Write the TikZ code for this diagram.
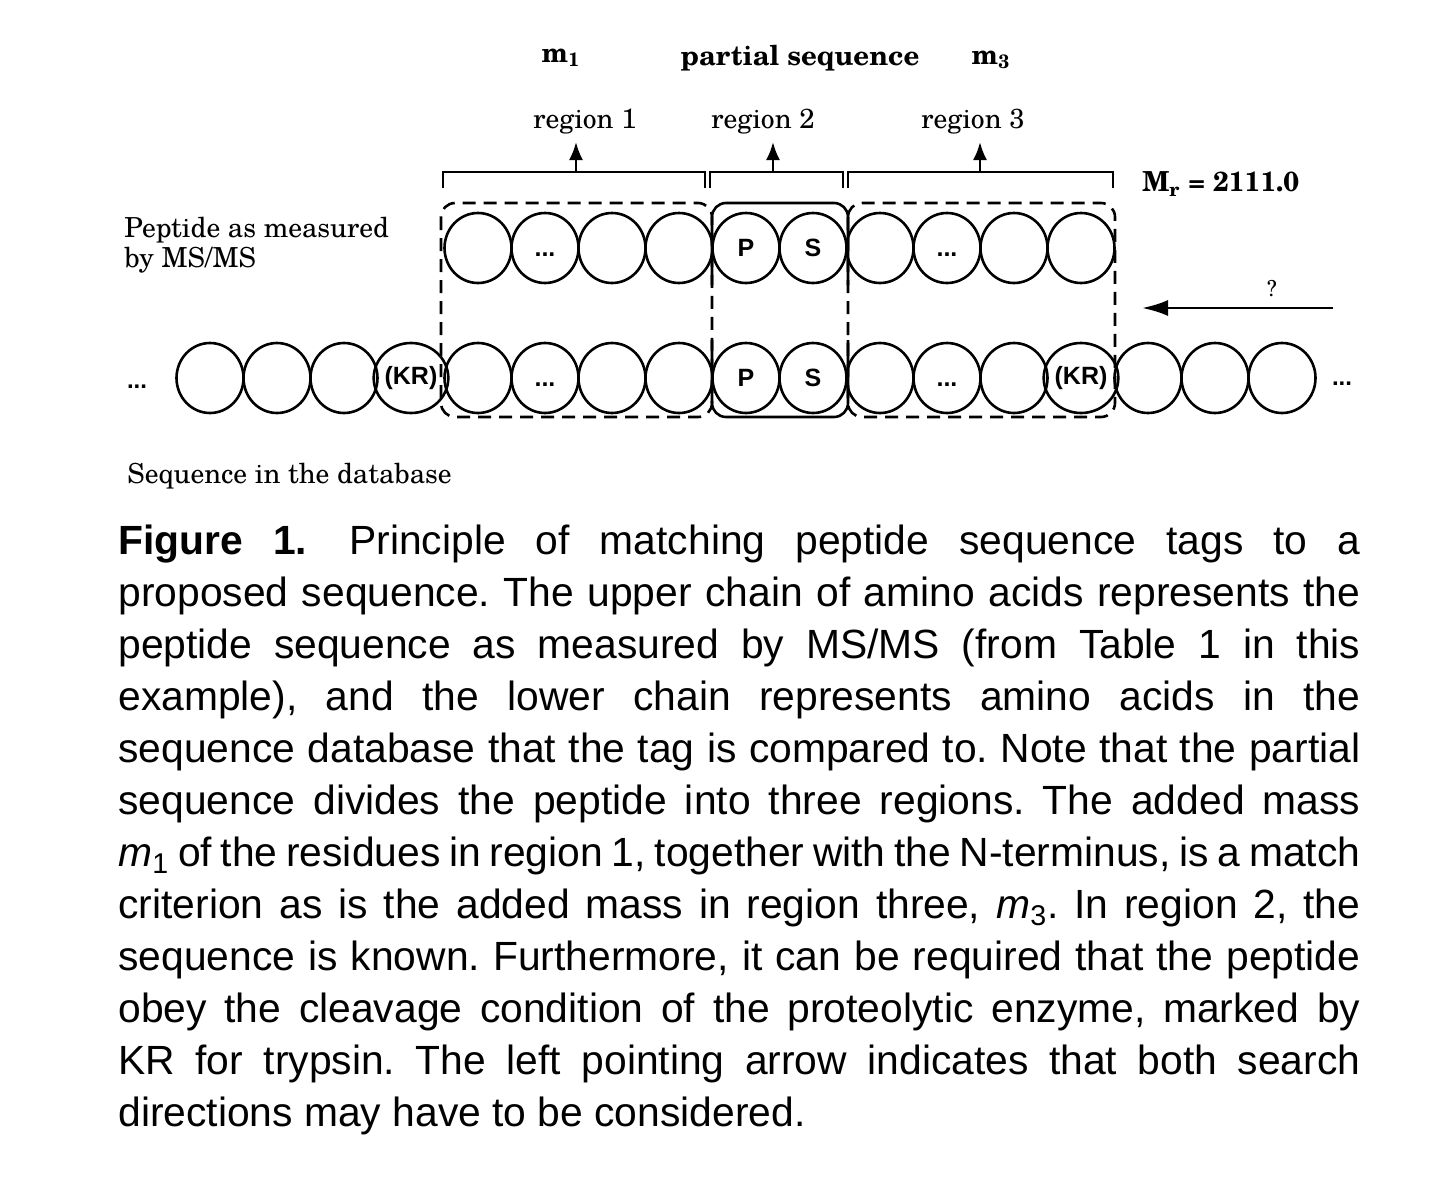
\documentclass[tikz,border=0pt]{standalone}
\usepackage{fontspec}
\setmainfont{TeX Gyre Schola}
\setsansfont{Liberation Sans}
\usetikzlibrary{arrows.meta,positioning,shapes.geometric}
\newcommand{\dd}{\vphantom{P}...}
\tikzset{aa/.style={ellipse,draw,line width=1.3pt,minimum width=33.5pt,minimum height=35pt,inner sep=0pt,font=\sffamily\bfseries\fontsize{12.5}{12}\selectfont},
lbl/.style={font=\fontsize{13.8}{15}\selectfont,inner sep=0pt},
bld/.style={font=\bfseries\fontsize{13.8}{15}\selectfont,inner sep=0pt},
regbox/.style={line width=1.3pt,rounded corners=7pt,dash pattern=on 6.5pt off 4pt},
brk/.style={line width=1.3pt},
arr/.style={-{Latex[length=9pt,width=7pt]},line width=1.3pt}}

\begin{document}
\begin{tikzpicture}[x=0.5pt,y=-0.5pt]
\useasboundingbox (0,0) rectangle (1430,1199);
\foreach \i/\t in {0/{},1/{},2/{},3/(KR),4/{},5/\dd,6/{},7/{},8/P,9/S,10/{},11/\dd,12/{},13/(KR),14/{},15/{},16/{}}
  \node[aa] (l\i) at ({210+67*\i},378) {\t};
\foreach \i/\t in {4/{},5/\dd,6/{},7/{},8/P,9/S,10/{},11/\dd,12/{},13/{}}
  \node[aa] (u\i) at ({210+67*\i},248) {\t};
\node[font=\sffamily\bfseries\fontsize{12}{12}\selectfont,inner sep=0pt] (ld) at (137,380) {\dd};
\node[font=\sffamily\bfseries\fontsize{12}{12}\selectfont,inner sep=0pt] (rd) at (1342,377) {\dd};
\draw[regbox] (441,203) rectangle (712,417);
\draw[regbox] (848,203) rectangle (1115,417);
\draw[brk,rounded corners=7pt] (712,285) -- (712,203) -- (848,203) -- (848,285);
\draw[brk,rounded corners=7pt] (712,340) -- (712,417) -- (848,417) -- (848,340);
\draw[brk] (443,188) -- (443,172) -- (705,172) -- (705,188);
\draw[brk] (710,188) -- (710,172) -- (843,172) -- (843,188);
\draw[brk] (848,188) -- (848,172) -- (1113,172) -- (1113,188);
\node[bld] (m1) at (561,58) {m\textsubscript{1}};
\node[bld] (ps) at (800,58) {partial sequence};
\node[bld] (m3) at (991,60) {m\textsubscript{3}};
\node[lbl] (r1) at (585,122) {region 1};
\node[lbl] (r2) at (763,122) {region 2};
\node[lbl] (r3) at (973,122) {region 3};
\coordinate (b1) at (576,172); \coordinate (t1) at (576,142);
\coordinate (b2) at (773,172); \coordinate (t2) at (773,142);
\coordinate (b3) at (980,172); \coordinate (t3) at (980,142);
\draw[arr] (b1) -- (t1);
\draw[arr] (b2) -- (t2);
\draw[arr] (b3) -- (t3);
\node[bld,anchor=west] (mr) at (1142,184) {M\textsubscript{r} = 2111.0};
\node[lbl,font=\fontsize{11}{12}\selectfont] (q) at (1272,289) {?};
\coordinate (a0) at (1333,308); \coordinate (a1) at (1142,308);
\draw[arr,-{Latex[length=13pt,width=8pt]}] (a0) -- (a1);
\node[lbl,anchor=west,align=left] (pep) at (124,245) {Peptide as measured\\by MS/MS};
\node[lbl,anchor=west] (db) at (127,476) {Sequence in the database};
\node[anchor=north west,inner sep=0pt,text width=621pt,align=justify,font=\sffamily\fontsize{20.4}{26}\selectfont] (cap) at (118,525) {\frenchspacing%
{\bfseries Figure 1.}\hspace{0.3em} Principle of matching peptide sequence tags to a\linebreak
proposed sequence. The upper chain of amino acids represents the\linebreak
peptide sequence as measured by MS/MS (from Table 1 in this\linebreak
example), and the lower chain represents amino acids in the\linebreak
sequence database that the tag is compared to. Note that the partial\linebreak
sequence divides the peptide into three regions. The added mass\linebreak
\textit{m}\textsubscript{1} of the residues in region 1, together with the N-terminus, is a match\linebreak
criterion as is the added mass in region three, \textit{m}\textsubscript{3}. In region 2, the\linebreak
sequence is known. Furthermore, it can be required that the peptide\linebreak
obey the cleavage condition of the proteolytic enzyme, marked by\linebreak
KR for trypsin. The left pointing arrow indicates that both search\linebreak
directions may have to be considered.};
\end{tikzpicture}
\end{document}
